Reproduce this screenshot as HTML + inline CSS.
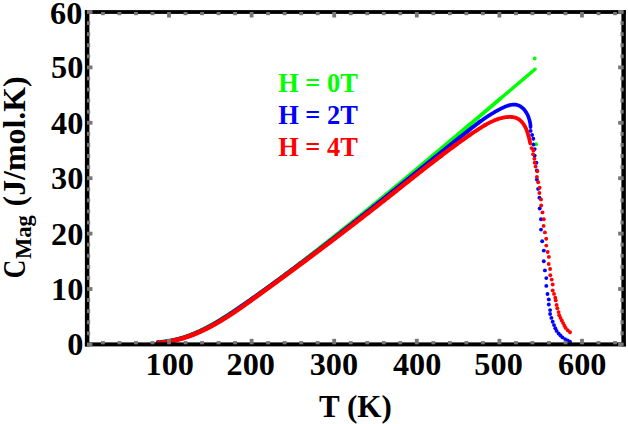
<!DOCTYPE html>
<html><head><meta charset="utf-8"><style>
html,body{margin:0;padding:0;background:#fff;}
svg{display:block;}
.lb{font-family:"Liberation Serif",serif;font-weight:bold;font-size:31.2px;fill:#000;}
.lg{font-family:"Liberation Serif",serif;font-weight:bold;font-size:27.8px;white-space:pre;}
.t31{font-family:"Liberation Serif",serif;font-weight:bold;font-size:31px;fill:#000;white-space:pre;}
.rt{font-family:"Liberation Serif",serif;font-weight:bold;fill:#000;white-space:pre;}
</style></head><body>
<svg width="628" height="424" viewBox="0 0 628 424">
<rect width="628" height="424" fill="#fff"/>
<polyline points="157.9,342.3 158.6,342.3 159.3,342.3 160.0,342.2 160.7,342.1 161.5,342.1 162.2,342.0 162.9,341.9 163.6,341.9 164.3,341.8 165.0,341.7 165.7,341.6 166.4,341.5 167.1,341.4 167.8,341.3 168.5,341.2 169.2,341.0 169.9,340.9 170.6,340.8 171.3,340.7 172.0,340.5 172.7,340.4 173.4,340.2 174.1,340.1 174.7,339.9 175.4,339.8 176.1,339.6 176.8,339.4 177.5,339.3 178.1,339.1 178.8,338.9 179.5,338.7 180.1,338.5 180.8,338.3 181.5,338.1 182.1,337.9 182.8,337.7 183.5,337.5 184.1,337.3 184.8,337.1 185.4,336.9 186.1,336.7 186.8,336.4 187.4,336.2 188.1,336.0 188.7,335.7 189.4,335.5 190.0,335.2 190.7,335.0 191.3,334.7 191.9,334.5 192.6,334.2 193.2,334.0 193.9,333.7 194.5,333.4 195.1,333.2 195.8,332.9 196.4,332.6 197.1,332.3 197.7,332.0 198.3,331.8 198.9,331.5 199.6,331.2 200.2,330.9 200.8,330.6 201.5,330.3 202.1,330.0 202.7,329.7 203.3,329.4 203.9,329.1 204.6,328.7 205.2,328.4 205.8,328.1 206.4,327.8 207.0,327.5 207.6,327.1 208.3,326.8 208.9,326.5 209.5,326.1 210.1,325.8 210.7,325.5 211.3,325.1 211.9,324.8 212.5,324.5 213.1,324.1 213.7,323.8 214.3,323.4 215.0,323.1 215.6,322.7 216.2,322.4 216.8,322.0 217.4,321.6 218.0,321.3 218.6,320.9 219.2,320.6 219.8,320.2 220.3,319.8 220.9,319.5 221.5,319.1 222.1,318.7 222.7,318.4 223.3,318.0 223.9,317.6 224.5,317.2 225.1,316.9 225.7,316.5 226.3,316.1 226.9,315.7 227.5,315.3 228.0,315.0 228.6,314.6 229.2,314.2 229.8,313.8 230.4,313.4 231.0,313.1 231.6,312.7 232.2,312.3 232.7,311.9 233.3,311.5 233.9,311.1 234.5,310.7 235.1,310.3 235.7,310.0 236.2,309.6 236.8,309.2 237.4,308.8 238.0,308.4 238.6,308.0 239.2,307.6 239.7,307.2 240.3,306.8 240.9,306.4 241.5,306.0 242.1,305.6 242.6,305.2 243.2,304.9 243.8,304.5 244.4,304.1 244.9,303.7 245.5,303.3 246.1,302.9 246.7,302.5 247.2,302.1 247.8,301.7 248.4,301.3 249.0,300.9 249.5,300.5 250.1,300.1 250.7,299.7 251.3,299.3 251.8,298.9 252.4,298.5 253.0,298.1 253.6,297.7 254.1,297.3 254.7,296.9 255.3,296.5 255.9,296.1 256.4,295.7 257.0,295.3 257.6,294.9 258.1,294.4 258.7,294.0 259.3,293.6 259.8,293.2 260.4,292.8 261.0,292.4 261.6,292.0 262.1,291.6 262.7,291.2 263.3,290.8 263.8,290.4 264.4,290.0 265.0,289.6 265.5,289.2 266.1,288.7 266.7,288.3 267.2,287.9 267.8,287.5 268.4,287.1 268.9,286.7 269.5,286.3 270.0,285.9 270.6,285.5 271.2,285.0 271.7,284.6 272.3,284.2 272.9,283.8 273.4,283.4 274.0,283.0 274.6,282.6 275.1,282.2 275.7,281.7 276.2,281.3 276.8,280.9 277.4,280.5 277.9,280.1 278.5,279.7 279.0,279.2 279.6,278.8 280.2,278.4 280.7,278.0 281.3,277.6 281.8,277.2 282.4,276.7 283.0,276.3 283.5,275.9 284.1,275.5 284.6,275.1 285.2,274.6 285.8,274.2 286.3,273.8 286.9,273.4 287.4,273.0 288.0,272.5 288.6,272.1 289.1,271.7 289.7,271.3 290.2,270.9 290.8,270.4 291.3,270.0 291.9,269.6 292.4,269.2 293.0,268.8 293.6,268.3 294.1,267.9 294.7,267.5 295.2,267.1 295.8,266.6 296.3,266.2 296.9,265.8 297.4,265.4 298.0,264.9 298.5,264.5 299.1,264.1 299.7,263.7 300.2,263.2" fill="none" stroke="#00ff00" stroke-width="4.3" stroke-linecap="round" stroke-linejoin="round"/>
<polyline points="300.2,263.2 300.8,262.8 301.3,262.4 301.9,262.0 302.4,261.5 303.0,261.1 303.5,260.7 304.1,260.3 304.6,259.8 305.2,259.4 305.7,259.0 306.3,258.5 306.8,258.1 307.4,257.7 307.9,257.3 308.5,256.8 309.0,256.4 309.6,256.0 310.2,255.5 310.7,255.1 311.3,254.7 311.8,254.3 312.4,253.8 312.9,253.4 313.5,253.0 314.0,252.5 314.6,252.1 315.1,251.7 315.7,251.2 316.2,250.8 316.8,250.4 317.3,250.0 317.9,249.5 318.4,249.1 319.0,248.7 319.5,248.2 320.1,247.8 320.6,247.4 321.2,246.9 321.7,246.5 322.2,246.1 322.8,245.6 323.3,245.2 323.9,244.8 324.4,244.3 325.0,243.9 325.5,243.5 326.1,243.0 326.6,242.6 327.2,242.2 327.7,241.7 328.3,241.3 328.8,240.9 329.4,240.4 329.9,240.0 330.5,239.6 331.0,239.1 331.6,238.7 332.1,238.3 332.7,237.8 333.2,237.4 333.8,237.0 334.3,236.5 334.8,236.1 335.4,235.7 335.9,235.2 336.5,234.8 337.0,234.4 337.6,233.9 338.1,233.5 338.7,233.1 339.2,232.6 339.8,232.2 340.3,231.7 340.9,231.3 341.4,230.9 341.9,230.4 342.5,230.0 343.0,229.6 343.6,229.1 344.1,228.7 344.7,228.3 345.2,227.8 345.8,227.4 346.3,226.9 346.9,226.5 347.4,226.1 347.9,225.6 348.5,225.2 349.0,224.8 349.6,224.3 350.1,223.9 350.7,223.4 351.2,223.0 351.8,222.6 352.3,222.1 352.8,221.7 353.4,221.2 353.9,220.8 354.5,220.4 355.0,219.9 355.6,219.5 356.1,219.0 356.7,218.6 357.2,218.2 357.7,217.7 358.3,217.3 358.8,216.9 359.4,216.4 359.9,216.0 360.5,215.5 361.0,215.1 361.5,214.7 362.1,214.2 362.6,213.8 363.2,213.3 363.7,212.9 364.3,212.4 364.8,212.0 365.3,211.6 365.9,211.1 366.4,210.7 367.0,210.2 367.5,209.8 368.1,209.4 368.6,208.9 369.1,208.5 369.7,208.0 370.2,207.6 370.8,207.2 371.3,206.7 371.9,206.3 372.4,205.8 372.9,205.4 373.5,204.9 374.0,204.5 374.6,204.1 375.1,203.6 375.6,203.2 376.2,202.7 376.7,202.3 377.3,201.8 377.8,201.4 378.3,201.0 378.9,200.5 379.4,200.1 380.0,199.6 380.5,199.2 381.1,198.7 381.6,198.3 382.1,197.9 382.7,197.4 383.2,197.0 383.8,196.5 384.3,196.1 384.8,195.6 385.4,195.2 385.9,194.7 386.5,194.3 387.0,193.9 387.5,193.4 388.1,193.0 388.6,192.5 389.2,192.1 389.7,191.6 390.2,191.2 390.8,190.7 391.3,190.3 391.9,189.9 392.4,189.4 392.9,189.0 393.5,188.5 394.0,188.1 394.5,187.6 395.1,187.2 395.6,186.7 396.2,186.3 396.7,185.8 397.2,185.4 397.8,185.0 398.3,184.5 398.9,184.1 399.4,183.6 399.9,183.2 400.5,182.7 401.0,182.3 401.6,181.8 402.1,181.4 402.6,180.9 403.2,180.5 403.7,180.0 404.2,179.6 404.8,179.2 405.3,178.7 405.9,178.3 406.4,177.8 406.9,177.4 407.5,176.9 408.0,176.5 408.5,176.0 409.1,175.6 409.6,175.1 410.2,174.7 410.7,174.2 411.2,173.8 411.8,173.3 412.3,172.9 412.8,172.4 413.4,172.0 413.9,171.5 414.5,171.1 415.0,170.6 415.5,170.2 416.1,169.8 416.6,169.3 417.1,168.9 417.7,168.4 418.2,168.0 418.8,167.5 419.3,167.1 419.8,166.6 420.4,166.2 420.9,165.7 421.4,165.3 422.0,164.8 422.5,164.4 423.0,163.9 423.6,163.5 424.1,163.0 424.7,162.6 425.2,162.1 425.7,161.7 426.3,161.2 426.8,160.8 427.3,160.3 427.9,159.9 428.4,159.4 428.9,159.0 429.5,158.5 430.0,158.1 430.6,157.6 431.1,157.2 431.6,156.7 432.2,156.3 432.7,155.8 433.2,155.4 433.8,154.9 434.3,154.5 434.8,154.0 435.4,153.6 435.9,153.1 436.4,152.7 437.0,152.2 437.5,151.8 438.1,151.3 438.6,150.9 439.1,150.4 439.7,150.0 440.2,149.5 440.7,149.1 441.3,148.6 441.8,148.2 442.3,147.7 442.9,147.3 443.4,146.8 443.9,146.4 444.5,145.9 445.0,145.5 445.5,145.0 446.1,144.6 446.6,144.1 447.1,143.7 447.7,143.2 448.2,142.8 448.7,142.3 449.3,141.9 449.8,141.4 450.4,141.0 450.9,140.5 451.4,140.1 452.0,139.6 452.5,139.2 453.0,138.7 453.6,138.3 454.1,137.8 454.6,137.4 455.2,136.9 455.7,136.5 456.2,136.0 456.8,135.6 457.3,135.1 457.8,134.7 458.4,134.2 458.9,133.8 459.4,133.3 460.0,132.9 460.5,132.4 461.0,132.0 461.6,131.5 462.1,131.1 462.6,130.6 463.2,130.2 463.7,129.7 464.2,129.2 464.8,128.8 465.3,128.3 465.8,127.9 466.4,127.4 466.9,127.0 467.4,126.5 468.0,126.1 468.5,125.6 469.0,125.2 469.6,124.7 470.1,124.3" fill="none" stroke="#00ff00" stroke-width="4.1" stroke-linecap="round" stroke-linejoin="round"/>
<polyline points="470.1,124.3 470.6,123.8 471.2,123.4 471.7,122.9 472.2,122.5 472.8,122.0 473.3,121.6 473.8,121.1 474.4,120.7 474.9,120.2 475.4,119.8 476.0,119.3 476.5,118.9 477.0,118.4 477.6,118.0 478.1,117.5 478.6,117.1 479.2,116.6 479.7,116.1 480.2,115.7 480.8,115.2 481.3,114.8 481.8,114.3 482.4,113.9 482.9,113.4 483.4,113.0 484.0,112.5 484.5,112.1 485.0,111.6 485.6,111.2 486.1,110.7 486.6,110.3 487.2,109.8 487.7,109.4 488.2,108.9 488.8,108.5 489.3,108.0 489.8,107.6 490.4,107.1 490.9,106.7 491.4,106.2 492.0,105.8 492.5,105.3 493.0,104.9 493.6,104.4 494.1,103.9 494.6,103.5 495.2,103.0 495.7,102.6 496.2,102.1 496.7,101.7 497.3,101.2 497.8,100.8 498.3,100.3 498.9,99.9 499.4,99.4 499.9,99.0 500.5,98.5" fill="none" stroke="#00ff00" stroke-width="3.8" stroke-linecap="round" stroke-linejoin="round"/>
<polyline points="500.5,98.5 501.0,98.1 501.5,97.6 502.1,97.2 502.6,96.7 503.1,96.3 503.7,95.8 504.2,95.4 504.7,94.9 505.3,94.5 505.8,94.0 506.3,93.6 506.9,93.1 507.4,92.7 507.9,92.2 508.5,91.7 509.0,91.3 509.5,90.8 510.1,90.4 510.6,89.9 511.1,89.5 511.7,89.0 512.2,88.6 512.7,88.1 513.2,87.7 513.8,87.2 514.3,86.8 514.8,86.3 515.4,85.9 515.9,85.4 516.4,85.0 517.0,84.5 517.5,84.1 518.0,83.6 518.6,83.2 519.1,82.7 519.6,82.3 520.2,81.8 520.7,81.4 521.2,80.9 521.8,80.5 522.3,80.0 522.8,79.6 523.4,79.1 523.9,78.7 524.4,78.2 525.0,77.8 525.5,77.3 526.0,76.9 526.5,76.4 527.1,76.0 527.6,75.5 528.1,75.1 528.7,74.6 529.2,74.2 529.7,73.7 530.3,73.3 530.8,72.8 531.3,72.4 531.9,71.9 532.4,71.4 532.9,71.0 533.5,70.5 534.0,70.1 534.5,69.6 535.1,69.2" fill="none" stroke="#00ff00" stroke-width="3.4" stroke-linecap="round" stroke-linejoin="round"/>
<circle cx="534.7" cy="58.5" r="1.95" fill="#00ff00"/>
<circle cx="536.1" cy="144.3" r="1.95" fill="#00ff00"/>
<polyline points="157.8,342.5 158.6,342.5 159.3,342.4 160.0,342.4 160.7,342.3 161.5,342.2 162.2,342.2 162.9,342.1 163.6,342.0 164.3,341.9 165.0,341.8 165.7,341.7 166.4,341.6 167.1,341.5 167.9,341.4 168.6,341.3 169.3,341.2 169.9,341.0 170.6,340.9 171.3,340.8 172.0,340.6 172.7,340.5 173.4,340.3 174.1,340.2 174.8,340.0 175.5,339.9 176.1,339.7 176.8,339.6 177.5,339.4 178.2,339.2 178.9,339.0 179.5,338.8 180.2,338.7 180.9,338.5 181.5,338.3 182.2,338.1 182.9,337.9 183.5,337.7 184.2,337.5 184.9,337.2 185.5,337.0 186.2,336.8 186.8,336.6 187.5,336.4 188.1,336.1 188.8,335.9 189.4,335.7 190.1,335.4 190.7,335.2 191.4,334.9 192.0,334.7 192.7,334.4 193.3,334.2 194.0,333.9 194.6,333.6 195.2,333.4 195.9,333.1 196.5,332.8 197.1,332.6 197.8,332.3 198.4,332.0 199.0,331.7 199.7,331.4 200.3,331.1 200.9,330.8 201.6,330.5 202.2,330.2 202.8,329.9 203.4,329.6 204.0,329.3 204.7,329.0 205.3,328.7 205.9,328.4 206.5,328.1 207.1,327.8 207.8,327.4 208.4,327.1 209.0,326.8 209.6,326.5 210.2,326.1 210.8,325.8 211.4,325.5 212.0,325.1 212.6,324.8 213.2,324.5 213.9,324.1 214.5,323.8 215.1,323.4 215.7,323.1 216.3,322.7 216.9,322.4 217.5,322.0 218.1,321.7 218.7,321.3 219.3,320.9 219.9,320.6 220.5,320.2 221.1,319.8 221.7,319.5 222.2,319.1 222.8,318.7 223.4,318.4 224.0,318.0 224.6,317.6 225.2,317.2 225.8,316.9 226.4,316.5 227.0,316.1 227.6,315.7 228.2,315.3 228.7,315.0 229.3,314.6 229.9,314.2 230.5,313.8 231.1,313.4 231.7,313.0 232.3,312.6 232.8,312.3 233.4,311.9 234.0,311.5 234.6,311.1 235.2,310.7 235.7,310.3 236.3,309.9 236.9,309.5 237.5,309.1 238.1,308.7 238.6,308.3 239.2,307.9 239.8,307.5 240.4,307.1 241.0,306.7 241.5,306.3 242.1,305.9 242.7,305.5 243.3,305.1 243.8,304.7 244.4,304.3 245.0,303.9 245.6,303.5 246.1,303.1 246.7,302.7 247.3,302.3 247.9,301.9 248.4,301.5 249.0,301.1 249.6,300.7 250.2,300.3 250.7,299.9 251.3,299.4 251.9,299.0 252.5,298.6 253.0,298.2 253.6,297.8 254.2,297.4 254.8,297.0 255.3,296.6 255.9,296.2 256.5,295.8 257.0,295.4 257.6,295.0 258.2,294.6 258.8,294.2 259.3,293.8 259.9,293.4 260.5,292.9 261.0,292.5 261.6,292.1 262.2,291.7 262.8,291.3 263.3,290.9 263.9,290.5 264.5,290.1 265.0,289.7 265.6,289.3 266.2,288.9 266.7,288.4 267.3,288.0 267.9,287.6 268.4,287.2 269.0,286.8 269.6,286.4 270.1,286.0 270.7,285.6 271.3,285.2 271.8,284.8 272.4,284.3 273.0,283.9 273.5,283.5 274.1,283.1 274.7,282.7 275.2,282.3 275.8,281.9 276.4,281.5 276.9,281.0 277.5,280.6 278.1,280.2 278.6,279.8 279.2,279.4 279.8,279.0 280.3,278.6 280.9,278.1 281.5,277.7 282.0,277.3 282.6,276.9 283.2,276.5 283.7,276.1 284.3,275.7 284.8,275.2 285.4,274.8 286.0,274.4 286.5,274.0 287.1,273.6 287.7,273.2 288.2,272.8 288.8,272.3 289.3,271.9 289.9,271.5 290.5,271.1 291.0,270.7 291.6,270.2 292.1,269.8 292.7,269.4 293.3,269.0 293.8,268.6 294.4,268.2 295.0,267.7 295.5,267.3 296.1,266.9 296.6,266.5 297.2,266.1 297.8,265.6 298.3,265.2 298.9,264.8 299.4,264.4 300.0,264.0 300.5,263.6" fill="none" stroke="#0000ff" stroke-width="4.3" stroke-linecap="round" stroke-linejoin="round"/>
<polyline points="300.5,263.6 301.1,263.1 301.7,262.7 302.2,262.3 302.8,261.9 303.3,261.5 303.9,261.0 304.5,260.6 305.0,260.2 305.6,259.8 306.1,259.3 306.7,258.9 307.2,258.5 307.8,258.1 308.4,257.7 308.9,257.2 309.5,256.8 310.0,256.4 310.6,256.0 311.1,255.5 311.7,255.1 312.3,254.7 312.8,254.3 313.4,253.9 313.9,253.4 314.5,253.0 315.0,252.6 315.6,252.2 316.1,251.7 316.7,251.3 317.3,250.9 317.8,250.5 318.4,250.0 318.9,249.6 319.5,249.2 320.0,248.8 320.6,248.3 321.1,247.9 321.7,247.5 322.2,247.1 322.8,246.6 323.4,246.2 323.9,245.8 324.5,245.4 325.0,244.9 325.6,244.5 326.1,244.1 326.7,243.7 327.2,243.2 327.8,242.8 328.3,242.4 328.9,242.0 329.4,241.5 330.0,241.1 330.5,240.7 331.1,240.2 331.6,239.8 332.2,239.4 332.8,239.0 333.3,238.5 333.9,238.1 334.4,237.7 335.0,237.2 335.5,236.8 336.1,236.4 336.6,236.0 337.2,235.5 337.7,235.1 338.3,234.7 338.8,234.2 339.4,233.8 339.9,233.4 340.5,233.0 341.0,232.5 341.6,232.1 342.1,231.7 342.7,231.2 343.2,230.8 343.8,230.4 344.3,229.9 344.9,229.5 345.4,229.1 346.0,228.6 346.5,228.2 347.1,227.8 347.6,227.4 348.2,226.9 348.7,226.5 349.3,226.1 349.8,225.6 350.4,225.2 350.9,224.8 351.5,224.3 352.0,223.9 352.6,223.5 353.1,223.0 353.7,222.6 354.2,222.2 354.8,221.7 355.3,221.3 355.9,220.9 356.4,220.4 357.0,220.0 357.5,219.6 358.1,219.1 358.6,218.7 359.1,218.3 359.7,217.8 360.2,217.4 360.8,217.0 361.3,216.5 361.9,216.1 362.4,215.7 363.0,215.2 363.5,214.8 364.1,214.4 364.6,213.9 365.2,213.5 365.7,213.0 366.3,212.6 366.8,212.2 367.4,211.7 367.9,211.3 368.5,210.9 369.0,210.4 369.6,210.0 370.1,209.6 370.6,209.1 371.2,208.7 371.7,208.3 372.3,207.8 372.8,207.4 373.4,206.9 373.9,206.5 374.5,206.1 375.0,205.6 375.6,205.2 376.1,204.8 376.7,204.3 377.2,203.9 377.8,203.4 378.3,203.0 378.8,202.6 379.4,202.1 379.9,201.7 380.5,201.3 381.0,200.8 381.6,200.4 382.1,199.9 382.7,199.5 383.2,199.1 383.8,198.6 384.3,198.2 384.9,197.8 385.4,197.3 385.9,196.9 386.5,196.4 387.0,196.0 387.6,195.6 388.1,195.1 388.7,194.7 389.2,194.2 389.8,193.8 390.3,193.4 390.9,192.9 391.4,192.5 391.9,192.0 392.5,191.6 393.0,191.2 393.6,190.7 394.1,190.3 394.7,189.9 395.2,189.4 395.8,189.0 396.3,188.5 396.9,188.1 397.4,187.7 397.9,187.2 398.5,186.8 399.0,186.3 399.6,185.9 400.1,185.5 400.7,185.0 401.2,184.6 401.8,184.1 402.3,183.7 402.9,183.3 403.4,182.8 403.9,182.4 404.5,181.9 405.0,181.5 405.6,181.1 406.1,180.6 406.7,180.2 407.2,179.7 407.8,179.3 408.3,178.9 408.8,178.4 409.4,178.0 409.9,177.5 410.5,177.1 411.0,176.6 411.6,176.2 412.1,175.8 412.7,175.3 413.2,174.9 413.7,174.4 414.3,174.0 414.8,173.6 415.4,173.1 415.9,172.7 416.5,172.2 417.0,171.8 417.6,171.4 418.1,170.9 418.7,170.5 419.2,170.0 419.7,169.6 420.3,169.2 420.8,168.7 421.4,168.3 421.9,167.8 422.5,167.4 423.0,167.0 423.6,166.5 424.1,166.1 424.6,165.6 425.2,165.2 425.7,164.8 426.3,164.3 426.8,163.9 427.4,163.4 427.9,163.0 428.5,162.6 429.0,162.1 429.5,161.7 430.1,161.2 430.6,160.8 431.2,160.4 431.7,159.9 432.3,159.5 432.8,159.0 433.4,158.6 433.9,158.2 434.5,157.7 435.0,157.3 435.5,156.8 436.1,156.4 436.6,156.0 437.2,155.5 437.7,155.1 438.3,154.7 438.8,154.2 439.4,153.8 439.9,153.3 440.4,152.9 441.0,152.5 441.5,152.0 442.1,151.6 442.6,151.1 443.2,150.7 443.7,150.3 444.3,149.8 444.8,149.4 445.4,148.9 445.9,148.5 446.4,148.1 447.0,147.6 447.5,147.2 448.1,146.8 448.6,146.3 449.2,145.9 449.7,145.4 450.3,145.0 450.8,144.6 451.4,144.1 451.9,143.7 452.5,143.3 453.0,142.8 453.5,142.4 454.1,141.9 454.6,141.5 455.2,141.1 455.7,140.6 456.3,140.2 456.8,139.8 457.4,139.3 457.9,138.9 458.5,138.5 459.0,138.0 459.5,137.6 460.1,137.1" fill="none" stroke="#0000ff" stroke-width="4.2" stroke-linecap="round" stroke-linejoin="round"/>
<polyline points="460.1,137.1 460.6,136.7 461.2,136.3 461.7,135.8 462.3,135.4 462.8,135.0 463.4,134.5 463.9,134.1 464.5,133.7 465.0,133.2 465.6,132.8 466.1,132.4 466.7,131.9 467.2,131.5 467.8,131.1 468.3,130.6 468.8,130.2 469.4,129.8 469.9,129.3 470.5,128.9 471.0,128.5 471.6,128.0 472.1,127.6 472.7,127.2 473.3,126.8 473.8,126.3 474.4,125.9 474.9,125.5 475.5,125.1 476.0,124.6 476.6,124.2 477.1,123.8 477.7,123.4 478.3,123.0 478.8,122.5 479.4,122.1 480.0,121.7 480.5,121.3" fill="none" stroke="#0000ff" stroke-width="4.0" stroke-linecap="round" stroke-linejoin="round"/>
<polyline points="480.5,121.3 481.1,120.9 481.7,120.5 482.2,120.1 482.8,119.7 483.4,119.3 484.0,118.9 484.5,118.5 485.1,118.1 485.7,117.7 486.3,117.3 486.9,116.9 487.5,116.5 488.0,116.1 488.6,115.7 489.2,115.4 489.8,115.0 490.4,114.6 491.0,114.2 491.6,113.9 492.2,113.5 492.8,113.1 493.4,112.8 494.1,112.4 494.7,112.0 495.3,111.7 495.9,111.3 496.5,111.0 497.2,110.6 497.8,110.3 498.4,110.0 499.0,109.6 499.7,109.3 500.3,109.0 501.0,108.6 501.6,108.3 502.3,108.0 502.9,107.7 503.6,107.4 504.2,107.1 504.9,106.8 505.5,106.5 506.2,106.3 506.8,106.0 507.5,105.8 508.1,105.6 508.8,105.4 509.4,105.2 510.1,105.1 510.7,104.9 511.4,104.8 512.0,104.7 512.6,104.6 513.3,104.6 513.9,104.6 514.5,104.6 515.1,104.7 515.7,104.7 516.4,104.8 517.0,105.0 517.6,105.1 518.1,105.3 518.7,105.6 519.3,105.8 519.9,106.1 520.4,106.4 521.0,106.8 521.5,107.1 522.0,107.6 522.5,108.0 523.0,108.4 523.5,108.9 524.0,109.4 524.4,110.0 524.9,110.5 525.3,111.1 525.7,111.7 526.1,112.3 526.5,112.9 526.9,113.6 527.2,114.2 527.6,114.9 527.9,115.6 528.2,116.3 528.5,117.0 528.7,117.7 529.0,118.4 529.2,119.2 529.4,119.9 529.6,120.6 529.8,121.4 530.0,122.1 530.1,122.8 530.2,123.5 530.3,124.3 530.4,125.0 530.5,125.7 530.5,126.4 530.5,127.1" fill="none" stroke="#0000ff" stroke-width="3.7" stroke-linecap="round" stroke-linejoin="round"/>
<circle cx="530.6" cy="130.9" r="1.95" fill="#0000ff"/>
<circle cx="532.1" cy="135.0" r="1.95" fill="#0000ff"/>
<circle cx="533.3" cy="138.8" r="1.95" fill="#0000ff"/>
<circle cx="533.4" cy="144.5" r="1.95" fill="#0000ff"/>
<circle cx="534.7" cy="149.1" r="1.95" fill="#0000ff"/>
<circle cx="534.7" cy="155.6" r="1.95" fill="#0000ff"/>
<circle cx="536.4" cy="162.7" r="1.95" fill="#0000ff"/>
<circle cx="536.9" cy="170.5" r="1.95" fill="#0000ff"/>
<circle cx="536.9" cy="179.6" r="1.95" fill="#0000ff"/>
<circle cx="538.1" cy="188.9" r="1.95" fill="#0000ff"/>
<circle cx="539.4" cy="197.7" r="1.95" fill="#0000ff"/>
<circle cx="539.7" cy="208.5" r="1.95" fill="#0000ff"/>
<circle cx="541.0" cy="219.2" r="1.95" fill="#0000ff"/>
<circle cx="541.0" cy="229.6" r="1.95" fill="#0000ff"/>
<circle cx="542.2" cy="241.3" r="1.95" fill="#0000ff"/>
<circle cx="543.8" cy="250.6" r="1.95" fill="#0000ff"/>
<circle cx="543.8" cy="261.2" r="1.95" fill="#0000ff"/>
<circle cx="544.9" cy="270.4" r="1.95" fill="#0000ff"/>
<circle cx="546.3" cy="278.1" r="1.95" fill="#0000ff"/>
<circle cx="546.3" cy="285.9" r="1.95" fill="#0000ff"/>
<circle cx="547.5" cy="294.0" r="1.95" fill="#0000ff"/>
<circle cx="548.8" cy="299.4" r="1.95" fill="#0000ff"/>
<circle cx="548.8" cy="304.5" r="1.95" fill="#0000ff"/>
<circle cx="550.1" cy="310.1" r="1.95" fill="#0000ff"/>
<circle cx="550.1" cy="314.0" r="1.95" fill="#0000ff"/>
<circle cx="551.4" cy="317.9" r="1.95" fill="#0000ff"/>
<circle cx="552.7" cy="321.8" r="1.95" fill="#0000ff"/>
<circle cx="554.0" cy="325.1" r="1.95" fill="#0000ff"/>
<circle cx="555.3" cy="328.3" r="1.95" fill="#0000ff"/>
<circle cx="556.6" cy="330.9" r="1.95" fill="#0000ff"/>
<circle cx="558.6" cy="333.5" r="1.95" fill="#0000ff"/>
<circle cx="560.5" cy="335.5" r="1.95" fill="#0000ff"/>
<circle cx="562.5" cy="337.4" r="1.95" fill="#0000ff"/>
<circle cx="565.1" cy="339.1" r="1.95" fill="#0000ff"/>
<circle cx="567.7" cy="340.4" r="1.95" fill="#0000ff"/>
<circle cx="570.0" cy="341.7" r="1.95" fill="#0000ff"/>
<polyline points="157.9,343.0 158.6,342.9 159.3,342.8 160.1,342.8 160.8,342.7 161.5,342.6 162.2,342.5 162.9,342.4 163.6,342.4 164.3,342.3 165.1,342.2 165.8,342.1 166.5,342.0 167.2,341.8 167.9,341.7 168.6,341.6 169.3,341.5 170.0,341.4 170.7,341.2 171.4,341.1 172.0,340.9 172.7,340.8 173.4,340.6 174.1,340.5 174.8,340.3 175.5,340.2 176.2,340.0 176.8,339.9 177.5,339.7 178.2,339.5 178.9,339.3 179.5,339.1 180.2,339.0 180.9,338.8 181.6,338.6 182.2,338.4 182.9,338.2 183.6,338.0 184.2,337.8 184.9,337.6 185.5,337.3 186.2,337.1 186.9,336.9 187.5,336.7 188.2,336.5 188.8,336.2 189.5,336.0 190.1,335.8 190.8,335.5 191.4,335.3 192.1,335.0 192.7,334.8 193.4,334.5 194.0,334.3 194.6,334.0 195.3,333.8 195.9,333.5 196.6,333.2 197.2,333.0 197.8,332.7 198.5,332.4 199.1,332.1 199.7,331.9 200.4,331.6 201.0,331.3 201.6,331.0 202.2,330.7 202.9,330.4 203.5,330.1 204.1,329.8 204.7,329.5 205.4,329.2 206.0,328.9 206.6,328.6 207.2,328.3 207.8,328.0 208.4,327.7 209.1,327.3 209.7,327.0 210.3,326.7 210.9,326.4 211.5,326.0 212.1,325.7 212.7,325.4 213.3,325.0 213.9,324.7 214.5,324.4 215.2,324.0 215.8,323.7 216.4,323.3 217.0,323.0 217.6,322.7 218.2,322.3 218.8,322.0 219.4,321.6 220.0,321.2 220.6,320.9 221.2,320.5 221.7,320.2 222.3,319.8 222.9,319.4 223.5,319.1 224.1,318.7 224.7,318.3 225.3,318.0 225.9,317.6 226.5,317.2 227.1,316.8 227.7,316.5 228.3,316.1 228.8,315.7 229.4,315.3 230.0,315.0 230.6,314.6 231.2,314.2 231.8,313.8 232.4,313.4 232.9,313.0 233.5,312.6 234.1,312.2 234.7,311.9 235.3,311.5 235.8,311.1 236.4,310.7 237.0,310.3 237.6,309.9 238.2,309.5 238.7,309.1 239.3,308.7 239.9,308.3 240.5,307.9 241.0,307.5 241.6,307.1 242.2,306.7 242.8,306.3 243.3,305.9 243.9,305.5 244.5,305.1 245.1,304.7 245.6,304.2 246.2,303.8 246.8,303.4 247.4,303.0 247.9,302.6 248.5,302.2 249.1,301.8 249.7,301.4 250.2,301.0 250.8,300.6 251.4,300.2 251.9,299.7 252.5,299.3 253.1,298.9 253.6,298.5 254.2,298.1 254.8,297.7 255.4,297.3 255.9,296.9 256.5,296.4 257.1,296.0 257.6,295.6 258.2,295.2 258.8,294.8 259.4,294.4 259.9,294.0 260.5,293.6 261.1,293.2 261.6,292.7 262.2,292.3 262.8,291.9 263.3,291.5 263.9,291.1 264.5,290.7 265.0,290.3 265.6,289.8 266.2,289.4 266.7,289.0 267.3,288.6 267.9,288.2 268.5,287.8 269.0,287.4 269.6,287.0 270.2,286.5 270.7,286.1 271.3,285.7 271.9,285.3 272.4,284.9 273.0,284.5 273.6,284.1 274.1,283.6 274.7,283.2 275.3,282.8 275.8,282.4 276.4,282.0 277.0,281.6 277.5,281.2 278.1,280.7 278.7,280.3 279.2,279.9 279.8,279.5 280.4,279.1 280.9,278.7 281.5,278.3 282.1,277.8 282.6,277.4 283.2,277.0 283.7,276.6 284.3,276.2 284.9,275.8 285.4,275.3 286.0,274.9 286.6,274.5 287.1,274.1 287.7,273.7 288.3,273.3 288.8,272.9 289.4,272.4 290.0,272.0 290.5,271.6 291.1,271.2 291.7,270.8 292.2,270.4 292.8,269.9 293.3,269.5 293.9,269.1 294.5,268.7 295.0,268.3 295.6,267.9 296.2,267.4 296.7,267.0 297.3,266.6 297.8,266.2 298.4,265.8 299.0,265.4 299.5,264.9 300.1,264.5 300.7,264.1 301.2,263.7 301.8,263.3 302.3,262.9 302.9,262.4 303.5,262.0 304.0,261.6 304.6,261.2 305.2,260.8 305.7,260.3 306.3,259.9 306.8,259.5 307.4,259.1 308.0,258.7 308.5,258.3 309.1,257.8 309.6,257.4 310.2,257.0 310.8,256.6 311.3,256.2 311.9,255.7 312.4,255.3 313.0,254.9 313.6,254.5 314.1,254.1 314.7,253.6 315.2,253.2 315.8,252.8 316.4,252.4 316.9,252.0 317.5,251.5 318.0,251.1 318.6,250.7 319.2,250.3 319.7,249.9 320.3,249.4 320.8,249.0 321.4,248.6 322.0,248.2 322.5,247.8 323.1,247.3 323.6,246.9 324.2,246.5 324.7,246.1 325.3,245.7 325.9,245.2 326.4,244.8 327.0,244.4 327.5,244.0 328.1,243.5 328.7,243.1 329.2,242.7 329.8,242.3 330.3,241.9 330.9,241.4 331.4,241.0 332.0,240.6 332.6,240.2 333.1,239.8 333.7,239.3 334.2,238.9 334.8,238.5 335.3,238.1 335.9,237.6 336.4,237.2 337.0,236.8 337.6,236.4 338.1,235.9 338.7,235.5 339.2,235.1 339.8,234.7 340.3,234.3 340.9,233.8 341.4,233.4 342.0,233.0 342.6,232.6 343.1,232.1 343.7,231.7 344.2,231.3 344.8,230.9 345.3,230.4 345.9,230.0 346.4,229.6 347.0,229.2 347.5,228.7 348.1,228.3 348.7,227.9 349.2,227.5 349.8,227.0 350.3,226.6 350.9,226.2 351.4,225.8 352.0,225.3 352.5,224.9 353.1,224.5 353.6,224.1 354.2,223.6 354.7,223.2 355.3,222.8 355.8,222.4 356.4,221.9 357.0,221.5 357.5,221.1 358.1,220.7 358.6,220.2 359.2,219.8 359.7,219.4 360.3,218.9 360.8,218.5 361.4,218.1 361.9,217.7 362.5,217.2 363.0,216.8 363.6,216.4 364.1,216.0 364.7,215.5 365.2,215.1 365.8,214.7 366.3,214.2 366.9,213.8 367.4,213.4 368.0,213.0 368.5,212.5 369.1,212.1 369.6,211.7 370.2,211.2 370.7,210.8 371.3,210.4 371.8,210.0 372.4,209.5 372.9,209.1 373.5,208.7 374.0,208.2 374.6,207.8 375.1,207.4 375.7,206.9 376.2,206.5 376.8,206.1 377.3,205.7 377.9,205.2 378.4,204.8 379.0,204.4 379.5,203.9 380.1,203.5 380.6,203.1 381.2,202.6 381.7,202.2 382.3,201.8 382.8,201.4 383.4,200.9 383.9,200.5 384.5,200.1 385.0,199.6 385.6,199.2 386.1,198.8 386.7,198.3 387.2,197.9 387.8,197.5 388.3,197.0 388.8,196.6 389.4,196.2 389.9,195.7 390.5,195.3 391.0,194.9 391.6,194.4 392.1,194.0 392.7,193.6 393.2,193.1 393.8,192.7 394.3,192.3 394.9,191.8 395.4,191.4 396.0,191.0 396.5,190.5 397.0,190.1 397.6,189.7 398.1,189.2 398.7,188.8 399.2,188.4 399.8,187.9 400.3,187.5 400.9,187.1 401.4,186.6 402.0,186.2 402.5,185.8 403.1,185.3 403.6,184.9 404.1,184.5 404.7,184.0 405.2,183.6 405.8,183.2 406.3,182.7 406.9,182.3 407.4,181.9 408.0,181.4 408.5,181.0 409.1,180.6 409.6,180.1 410.2,179.7 410.7,179.3 411.3,178.8 411.8,178.4 412.4,178.0 412.9,177.5 413.4,177.1 414.0,176.7 414.5,176.2 415.1,175.8 415.6,175.4 416.2,174.9 416.7,174.5 417.3,174.1 417.8,173.6 418.4,173.2 418.9,172.8 419.5,172.3 420.0,171.9 420.6,171.5 421.1,171.0 421.7,170.6 422.2,170.2 422.8,169.7 423.3,169.3 423.9,168.9 424.4,168.5 425.0,168.0 425.5,167.6 426.1,167.2 426.6,166.7 427.2,166.3 427.7,165.9 428.3,165.4 428.9,165.0 429.4,164.6 430.0,164.2 430.5,163.7 431.1,163.3 431.6,162.9 432.2,162.4 432.7,162.0 433.3,161.6 433.8,161.2 434.4,160.7 435.0,160.3 435.5,159.9 436.1,159.5 436.6,159.0 437.2,158.6 437.7,158.2 438.3,157.8 438.9,157.3 439.4,156.9 440.0,156.5 440.5,156.1" fill="none" stroke="#ff0000" stroke-width="4.6" stroke-linecap="round" stroke-linejoin="round"/>
<polyline points="440.5,156.1 441.1,155.6 441.7,155.2 442.2,154.8 442.8,154.4 443.3,154.0 443.9,153.5 444.5,153.1 445.0,152.7 445.6,152.3 446.2,151.9 446.7,151.4 447.3,151.0 447.9,150.6 448.4,150.2 449.0,149.8 449.5,149.4 450.1,148.9 450.7,148.5 451.3,148.1 451.8,147.7 452.4,147.3 453.0,146.9 453.5,146.4 454.1,146.0 454.7,145.6 455.2,145.2" fill="none" stroke="#ff0000" stroke-width="4.4" stroke-linecap="round" stroke-linejoin="round"/>
<polyline points="455.2,145.2 455.8,144.8 456.4,144.4 457.0,144.0 457.5,143.6 458.1,143.1 458.7,142.7 459.3,142.3 459.8,141.9 460.4,141.5 461.0,141.1 461.6,140.7 462.1,140.3 462.7,139.9 463.3,139.5 463.9,139.1 464.5,138.7 465.0,138.3 465.6,137.8 466.2,137.4 466.8,137.0 467.4,136.6 467.9,136.2 468.5,135.8 469.1,135.4 469.7,135.0 470.3,134.6" fill="none" stroke="#ff0000" stroke-width="4.2" stroke-linecap="round" stroke-linejoin="round"/>
<polyline points="470.3,134.6 470.9,134.2 471.5,133.8 472.0,133.4 472.6,133.0 473.2,132.6 473.8,132.2 474.4,131.8 475.0,131.5 475.6,131.1 476.2,130.7 476.8,130.3 477.4,129.9 478.0,129.5 478.6,129.1 479.2,128.7 479.8,128.3 480.4,128.0 481.0,127.6 481.6,127.2 482.2,126.8 482.8,126.5 483.4,126.1 484.0,125.7 484.6,125.4 485.2,125.0" fill="none" stroke="#ff0000" stroke-width="4.0" stroke-linecap="round" stroke-linejoin="round"/>
<polyline points="485.2,125.0 485.8,124.7 486.4,124.3 487.0,124.0 487.6,123.6 488.3,123.3 488.9,123.0 489.5,122.7 490.1,122.4 490.8,122.0 491.4,121.7 492.0,121.5 492.6,121.2 493.3,120.9 493.9,120.6 494.5,120.4 495.2,120.1 495.8,119.8 496.5,119.6 497.1,119.4 497.8,119.2 498.4,118.9 499.1,118.7 499.7,118.5 500.4,118.3 501.0,118.2 501.7,118.0 502.4,117.9 503.0,117.7 503.7,117.6 504.4,117.4 505.0,117.3 505.7,117.2 506.4,117.1 507.1,117.1 507.8,117.0 508.5,117.0 509.1,116.9 509.8,116.9 510.5,116.9 511.2,117.0 511.8,117.0 512.5,117.1 513.2,117.2 513.8,117.3 514.4,117.4 515.1,117.6 515.7,117.8 516.3,118.0 516.9,118.3 517.5,118.6 518.1,118.9 518.6,119.2 519.2,119.6 519.7,120.0 520.2,120.4 520.8,120.9 521.2,121.4 521.7,121.9 522.2,122.4 522.6,123.0 523.1,123.5 523.5,124.1 523.9,124.7 524.3,125.3 524.6,126.0 525.0,126.6 525.3,127.3 525.7,128.0 526.0,128.6 526.3,129.3 526.6,130.0 526.8,130.7 527.1,131.5 527.4,132.2 527.6,132.9 527.8,133.6 528.0,134.3 528.2,135.0 528.4,135.7 528.6,136.4 528.8,137.1 529.0,137.8 529.2,138.5 529.3,139.2 529.5,139.8 529.6,140.5 529.8,141.1 529.9,141.7 530.0,142.3 530.1,142.9 530.3,143.5" fill="none" stroke="#ff0000" stroke-width="3.8" stroke-linecap="round" stroke-linejoin="round"/>
<circle cx="531.5" cy="148.1" r="1.95" fill="#ff0000"/>
<circle cx="533.4" cy="150.4" r="1.95" fill="#ff0000"/>
<circle cx="533.1" cy="154.3" r="1.95" fill="#ff0000"/>
<circle cx="534.4" cy="158.8" r="1.95" fill="#ff0000"/>
<circle cx="534.7" cy="162.7" r="1.95" fill="#ff0000"/>
<circle cx="535.6" cy="166.6" r="1.95" fill="#ff0000"/>
<circle cx="537.3" cy="171.2" r="1.95" fill="#ff0000"/>
<circle cx="536.9" cy="177.0" r="1.95" fill="#ff0000"/>
<circle cx="538.2" cy="182.2" r="1.95" fill="#ff0000"/>
<circle cx="539.6" cy="187.8" r="1.95" fill="#ff0000"/>
<circle cx="539.4" cy="193.0" r="1.95" fill="#ff0000"/>
<circle cx="541.0" cy="199.4" r="1.95" fill="#ff0000"/>
<circle cx="541.2" cy="205.5" r="1.95" fill="#ff0000"/>
<circle cx="542.5" cy="212.4" r="1.95" fill="#ff0000"/>
<circle cx="543.8" cy="219.2" r="1.95" fill="#ff0000"/>
<circle cx="543.6" cy="225.9" r="1.95" fill="#ff0000"/>
<circle cx="544.9" cy="232.4" r="1.95" fill="#ff0000"/>
<circle cx="546.2" cy="238.7" r="1.95" fill="#ff0000"/>
<circle cx="546.3" cy="245.6" r="1.95" fill="#ff0000"/>
<circle cx="547.7" cy="252.0" r="1.95" fill="#ff0000"/>
<circle cx="548.9" cy="256.9" r="1.95" fill="#ff0000"/>
<circle cx="548.7" cy="264.0" r="1.95" fill="#ff0000"/>
<circle cx="550.1" cy="269.0" r="1.95" fill="#ff0000"/>
<circle cx="550.3" cy="275.3" r="1.95" fill="#ff0000"/>
<circle cx="551.7" cy="279.6" r="1.95" fill="#ff0000"/>
<circle cx="552.7" cy="284.5" r="1.95" fill="#ff0000"/>
<circle cx="552.7" cy="290.4" r="1.95" fill="#ff0000"/>
<circle cx="554.0" cy="293.9" r="1.95" fill="#ff0000"/>
<circle cx="555.3" cy="297.8" r="1.95" fill="#ff0000"/>
<circle cx="555.7" cy="300.4" r="1.95" fill="#ff0000"/>
<circle cx="556.6" cy="304.9" r="1.95" fill="#ff0000"/>
<circle cx="557.3" cy="308.2" r="1.95" fill="#ff0000"/>
<circle cx="558.6" cy="312.1" r="1.95" fill="#ff0000"/>
<circle cx="559.2" cy="315.3" r="1.95" fill="#ff0000"/>
<circle cx="560.5" cy="317.9" r="1.95" fill="#ff0000"/>
<circle cx="561.8" cy="320.5" r="1.95" fill="#ff0000"/>
<circle cx="563.1" cy="323.1" r="1.95" fill="#ff0000"/>
<circle cx="564.4" cy="325.7" r="1.95" fill="#ff0000"/>
<circle cx="565.7" cy="327.9" r="1.95" fill="#ff0000"/>
<circle cx="567.7" cy="330.3" r="1.95" fill="#ff0000"/>
<circle cx="570.0" cy="332.2" r="1.95" fill="#ff0000"/>
<rect x="84.9" y="10.1" width="541.0" height="3.8" fill="#000"/>
<rect x="84.9" y="342.4" width="541.0" height="4.0" fill="#000"/>
<rect x="84.9" y="10.1" width="4.5" height="336.3" fill="#000"/>
<rect x="621.4" y="10.1" width="4.5" height="336.3" fill="#000"/>
<rect x="101.02" y="12.00" width="3.8" height="3.2" fill="#777"/>
<rect x="101.02" y="341.10" width="3.8" height="3.2" fill="#777"/>
<rect x="117.54" y="12.00" width="3.8" height="3.2" fill="#777"/>
<rect x="117.54" y="341.10" width="3.8" height="3.2" fill="#777"/>
<rect x="134.06" y="12.00" width="3.8" height="3.2" fill="#777"/>
<rect x="134.06" y="341.10" width="3.8" height="3.2" fill="#777"/>
<rect x="150.58" y="12.00" width="3.8" height="3.2" fill="#777"/>
<rect x="150.58" y="341.10" width="3.8" height="3.2" fill="#777"/>
<rect x="167.10" y="12.00" width="3.8" height="5.5" fill="#777"/>
<rect x="167.10" y="338.80" width="3.8" height="5.5" fill="#777"/>
<rect x="183.62" y="12.00" width="3.8" height="3.2" fill="#777"/>
<rect x="183.62" y="341.10" width="3.8" height="3.2" fill="#777"/>
<rect x="200.14" y="12.00" width="3.8" height="3.2" fill="#777"/>
<rect x="200.14" y="341.10" width="3.8" height="3.2" fill="#777"/>
<rect x="216.66" y="12.00" width="3.8" height="3.2" fill="#777"/>
<rect x="216.66" y="341.10" width="3.8" height="3.2" fill="#777"/>
<rect x="233.18" y="12.00" width="3.8" height="3.2" fill="#777"/>
<rect x="233.18" y="341.10" width="3.8" height="3.2" fill="#777"/>
<rect x="249.70" y="12.00" width="3.8" height="5.5" fill="#777"/>
<rect x="249.70" y="338.80" width="3.8" height="5.5" fill="#777"/>
<rect x="266.22" y="12.00" width="3.8" height="3.2" fill="#777"/>
<rect x="266.22" y="341.10" width="3.8" height="3.2" fill="#777"/>
<rect x="282.74" y="12.00" width="3.8" height="3.2" fill="#777"/>
<rect x="282.74" y="341.10" width="3.8" height="3.2" fill="#777"/>
<rect x="299.26" y="12.00" width="3.8" height="3.2" fill="#777"/>
<rect x="299.26" y="341.10" width="3.8" height="3.2" fill="#777"/>
<rect x="315.78" y="12.00" width="3.8" height="3.2" fill="#777"/>
<rect x="315.78" y="341.10" width="3.8" height="3.2" fill="#777"/>
<rect x="332.30" y="12.00" width="3.8" height="5.5" fill="#777"/>
<rect x="332.30" y="338.80" width="3.8" height="5.5" fill="#777"/>
<rect x="348.82" y="12.00" width="3.8" height="3.2" fill="#777"/>
<rect x="348.82" y="341.10" width="3.8" height="3.2" fill="#777"/>
<rect x="365.34" y="12.00" width="3.8" height="3.2" fill="#777"/>
<rect x="365.34" y="341.10" width="3.8" height="3.2" fill="#777"/>
<rect x="381.86" y="12.00" width="3.8" height="3.2" fill="#777"/>
<rect x="381.86" y="341.10" width="3.8" height="3.2" fill="#777"/>
<rect x="398.38" y="12.00" width="3.8" height="3.2" fill="#777"/>
<rect x="398.38" y="341.10" width="3.8" height="3.2" fill="#777"/>
<rect x="414.90" y="12.00" width="3.8" height="5.5" fill="#777"/>
<rect x="414.90" y="338.80" width="3.8" height="5.5" fill="#777"/>
<rect x="431.42" y="12.00" width="3.8" height="3.2" fill="#777"/>
<rect x="431.42" y="341.10" width="3.8" height="3.2" fill="#777"/>
<rect x="447.94" y="12.00" width="3.8" height="3.2" fill="#777"/>
<rect x="447.94" y="341.10" width="3.8" height="3.2" fill="#777"/>
<rect x="464.46" y="12.00" width="3.8" height="3.2" fill="#777"/>
<rect x="464.46" y="341.10" width="3.8" height="3.2" fill="#777"/>
<rect x="480.98" y="12.00" width="3.8" height="3.2" fill="#777"/>
<rect x="480.98" y="341.10" width="3.8" height="3.2" fill="#777"/>
<rect x="497.50" y="12.00" width="3.8" height="5.5" fill="#777"/>
<rect x="497.50" y="338.80" width="3.8" height="5.5" fill="#777"/>
<rect x="514.02" y="12.00" width="3.8" height="3.2" fill="#777"/>
<rect x="514.02" y="341.10" width="3.8" height="3.2" fill="#777"/>
<rect x="530.54" y="12.00" width="3.8" height="3.2" fill="#777"/>
<rect x="530.54" y="341.10" width="3.8" height="3.2" fill="#777"/>
<rect x="547.06" y="12.00" width="3.8" height="3.2" fill="#777"/>
<rect x="547.06" y="341.10" width="3.8" height="3.2" fill="#777"/>
<rect x="563.58" y="12.00" width="3.8" height="3.2" fill="#777"/>
<rect x="563.58" y="341.10" width="3.8" height="3.2" fill="#777"/>
<rect x="580.10" y="12.00" width="3.8" height="5.5" fill="#777"/>
<rect x="580.10" y="338.80" width="3.8" height="5.5" fill="#777"/>
<rect x="596.62" y="12.00" width="3.8" height="3.2" fill="#777"/>
<rect x="596.62" y="341.10" width="3.8" height="3.2" fill="#777"/>
<rect x="613.14" y="12.00" width="3.8" height="3.2" fill="#777"/>
<rect x="613.14" y="341.10" width="3.8" height="3.2" fill="#777"/>
<rect x="86.95" y="342.50" width="5.5" height="3.8" fill="#777"/>
<rect x="618.15" y="342.50" width="5.5" height="3.8" fill="#777"/>
<rect x="86.95" y="331.42" width="3.2" height="3.8" fill="#777"/>
<rect x="620.45" y="331.42" width="3.2" height="3.8" fill="#777"/>
<rect x="86.95" y="320.34" width="3.2" height="3.8" fill="#777"/>
<rect x="620.45" y="320.34" width="3.2" height="3.8" fill="#777"/>
<rect x="86.95" y="309.26" width="3.2" height="3.8" fill="#777"/>
<rect x="620.45" y="309.26" width="3.2" height="3.8" fill="#777"/>
<rect x="86.95" y="298.18" width="3.2" height="3.8" fill="#777"/>
<rect x="620.45" y="298.18" width="3.2" height="3.8" fill="#777"/>
<rect x="86.95" y="287.10" width="5.5" height="3.8" fill="#777"/>
<rect x="618.15" y="287.10" width="5.5" height="3.8" fill="#777"/>
<rect x="86.95" y="276.02" width="3.2" height="3.8" fill="#777"/>
<rect x="620.45" y="276.02" width="3.2" height="3.8" fill="#777"/>
<rect x="86.95" y="264.94" width="3.2" height="3.8" fill="#777"/>
<rect x="620.45" y="264.94" width="3.2" height="3.8" fill="#777"/>
<rect x="86.95" y="253.86" width="3.2" height="3.8" fill="#777"/>
<rect x="620.45" y="253.86" width="3.2" height="3.8" fill="#777"/>
<rect x="86.95" y="242.78" width="3.2" height="3.8" fill="#777"/>
<rect x="620.45" y="242.78" width="3.2" height="3.8" fill="#777"/>
<rect x="86.95" y="231.70" width="5.5" height="3.8" fill="#777"/>
<rect x="618.15" y="231.70" width="5.5" height="3.8" fill="#777"/>
<rect x="86.95" y="220.62" width="3.2" height="3.8" fill="#777"/>
<rect x="620.45" y="220.62" width="3.2" height="3.8" fill="#777"/>
<rect x="86.95" y="209.54" width="3.2" height="3.8" fill="#777"/>
<rect x="620.45" y="209.54" width="3.2" height="3.8" fill="#777"/>
<rect x="86.95" y="198.46" width="3.2" height="3.8" fill="#777"/>
<rect x="620.45" y="198.46" width="3.2" height="3.8" fill="#777"/>
<rect x="86.95" y="187.38" width="3.2" height="3.8" fill="#777"/>
<rect x="620.45" y="187.38" width="3.2" height="3.8" fill="#777"/>
<rect x="86.95" y="176.30" width="5.5" height="3.8" fill="#777"/>
<rect x="618.15" y="176.30" width="5.5" height="3.8" fill="#777"/>
<rect x="86.95" y="165.22" width="3.2" height="3.8" fill="#777"/>
<rect x="620.45" y="165.22" width="3.2" height="3.8" fill="#777"/>
<rect x="86.95" y="154.14" width="3.2" height="3.8" fill="#777"/>
<rect x="620.45" y="154.14" width="3.2" height="3.8" fill="#777"/>
<rect x="86.95" y="143.06" width="3.2" height="3.8" fill="#777"/>
<rect x="620.45" y="143.06" width="3.2" height="3.8" fill="#777"/>
<rect x="86.95" y="131.98" width="3.2" height="3.8" fill="#777"/>
<rect x="620.45" y="131.98" width="3.2" height="3.8" fill="#777"/>
<rect x="86.95" y="120.90" width="5.5" height="3.8" fill="#777"/>
<rect x="618.15" y="120.90" width="5.5" height="3.8" fill="#777"/>
<rect x="86.95" y="109.82" width="3.2" height="3.8" fill="#777"/>
<rect x="620.45" y="109.82" width="3.2" height="3.8" fill="#777"/>
<rect x="86.95" y="98.74" width="3.2" height="3.8" fill="#777"/>
<rect x="620.45" y="98.74" width="3.2" height="3.8" fill="#777"/>
<rect x="86.95" y="87.66" width="3.2" height="3.8" fill="#777"/>
<rect x="620.45" y="87.66" width="3.2" height="3.8" fill="#777"/>
<rect x="86.95" y="76.58" width="3.2" height="3.8" fill="#777"/>
<rect x="620.45" y="76.58" width="3.2" height="3.8" fill="#777"/>
<rect x="86.95" y="65.50" width="5.5" height="3.8" fill="#777"/>
<rect x="618.15" y="65.50" width="5.5" height="3.8" fill="#777"/>
<rect x="86.95" y="54.42" width="3.2" height="3.8" fill="#777"/>
<rect x="620.45" y="54.42" width="3.2" height="3.8" fill="#777"/>
<rect x="86.95" y="43.34" width="3.2" height="3.8" fill="#777"/>
<rect x="620.45" y="43.34" width="3.2" height="3.8" fill="#777"/>
<rect x="86.95" y="32.26" width="3.2" height="3.8" fill="#777"/>
<rect x="620.45" y="32.26" width="3.2" height="3.8" fill="#777"/>
<rect x="86.95" y="21.18" width="3.2" height="3.8" fill="#777"/>
<rect x="620.45" y="21.18" width="3.2" height="3.8" fill="#777"/>
<rect x="86.95" y="10.10" width="5.5" height="3.8" fill="#777"/>
<rect x="618.15" y="10.10" width="5.5" height="3.8" fill="#777"/>
<text transform="translate(169.72,375.2) scale(1.035,1)" text-anchor="middle" class="lb">100</text>
<text transform="translate(250.74,375.2) scale(1.035,1)" text-anchor="middle" class="lb">200</text>
<text transform="translate(333.91,375.2) scale(1.035,1)" text-anchor="middle" class="lb">300</text>
<text transform="translate(417.19,375.2) scale(1.035,1)" text-anchor="middle" class="lb">400</text>
<text transform="translate(498.57,375.2) scale(1.035,1)" text-anchor="middle" class="lb">500</text>
<text transform="translate(582.26,375.2) scale(1.035,1)" text-anchor="middle" class="lb">600</text>
<text transform="translate(83.3,355.30) scale(1.035,1)" text-anchor="end" class="lb">0</text>
<text transform="translate(83.3,299.90) scale(1.035,1)" text-anchor="end" class="lb">10</text>
<text transform="translate(83.3,244.50) scale(1.035,1)" text-anchor="end" class="lb">20</text>
<text transform="translate(83.3,189.10) scale(1.035,1)" text-anchor="end" class="lb">30</text>
<text transform="translate(83.3,133.70) scale(1.035,1)" text-anchor="end" class="lb">40</text>
<text transform="translate(83.3,78.30) scale(1.035,1)" text-anchor="end" class="lb">50</text>
<text transform="translate(82.3,23.70) scale(1.035,1)" text-anchor="end" class="lb">60</text>
<text x="319.1" y="416.5" class="t31">T (K)</text>
<text transform="translate(24.6,278.15) rotate(-90) scale(0.8,1)" style="font-size:32px" class="rt">C</text>
<text transform="translate(30.6,258.99) rotate(-90) scale(0.96,1)" style="font-size:23.5px" class="rt">Mag</text>
<text transform="translate(24.8,206.40) rotate(-90) scale(1.011,1)" style="font-size:31.5px" class="rt">(J/mol.K)</text>
<text transform="translate(278.15,92.1) scale(0.95,1)" class="lg" fill="#00ff00">H = 0T</text>
<text transform="translate(278.15,124.1) scale(0.95,1)" class="lg" fill="#0000ff">H = 2T</text>
<text transform="translate(278.15,155.5) scale(0.95,1)" class="lg" fill="#ff0000">H = 4T</text>
</svg></body></html>
